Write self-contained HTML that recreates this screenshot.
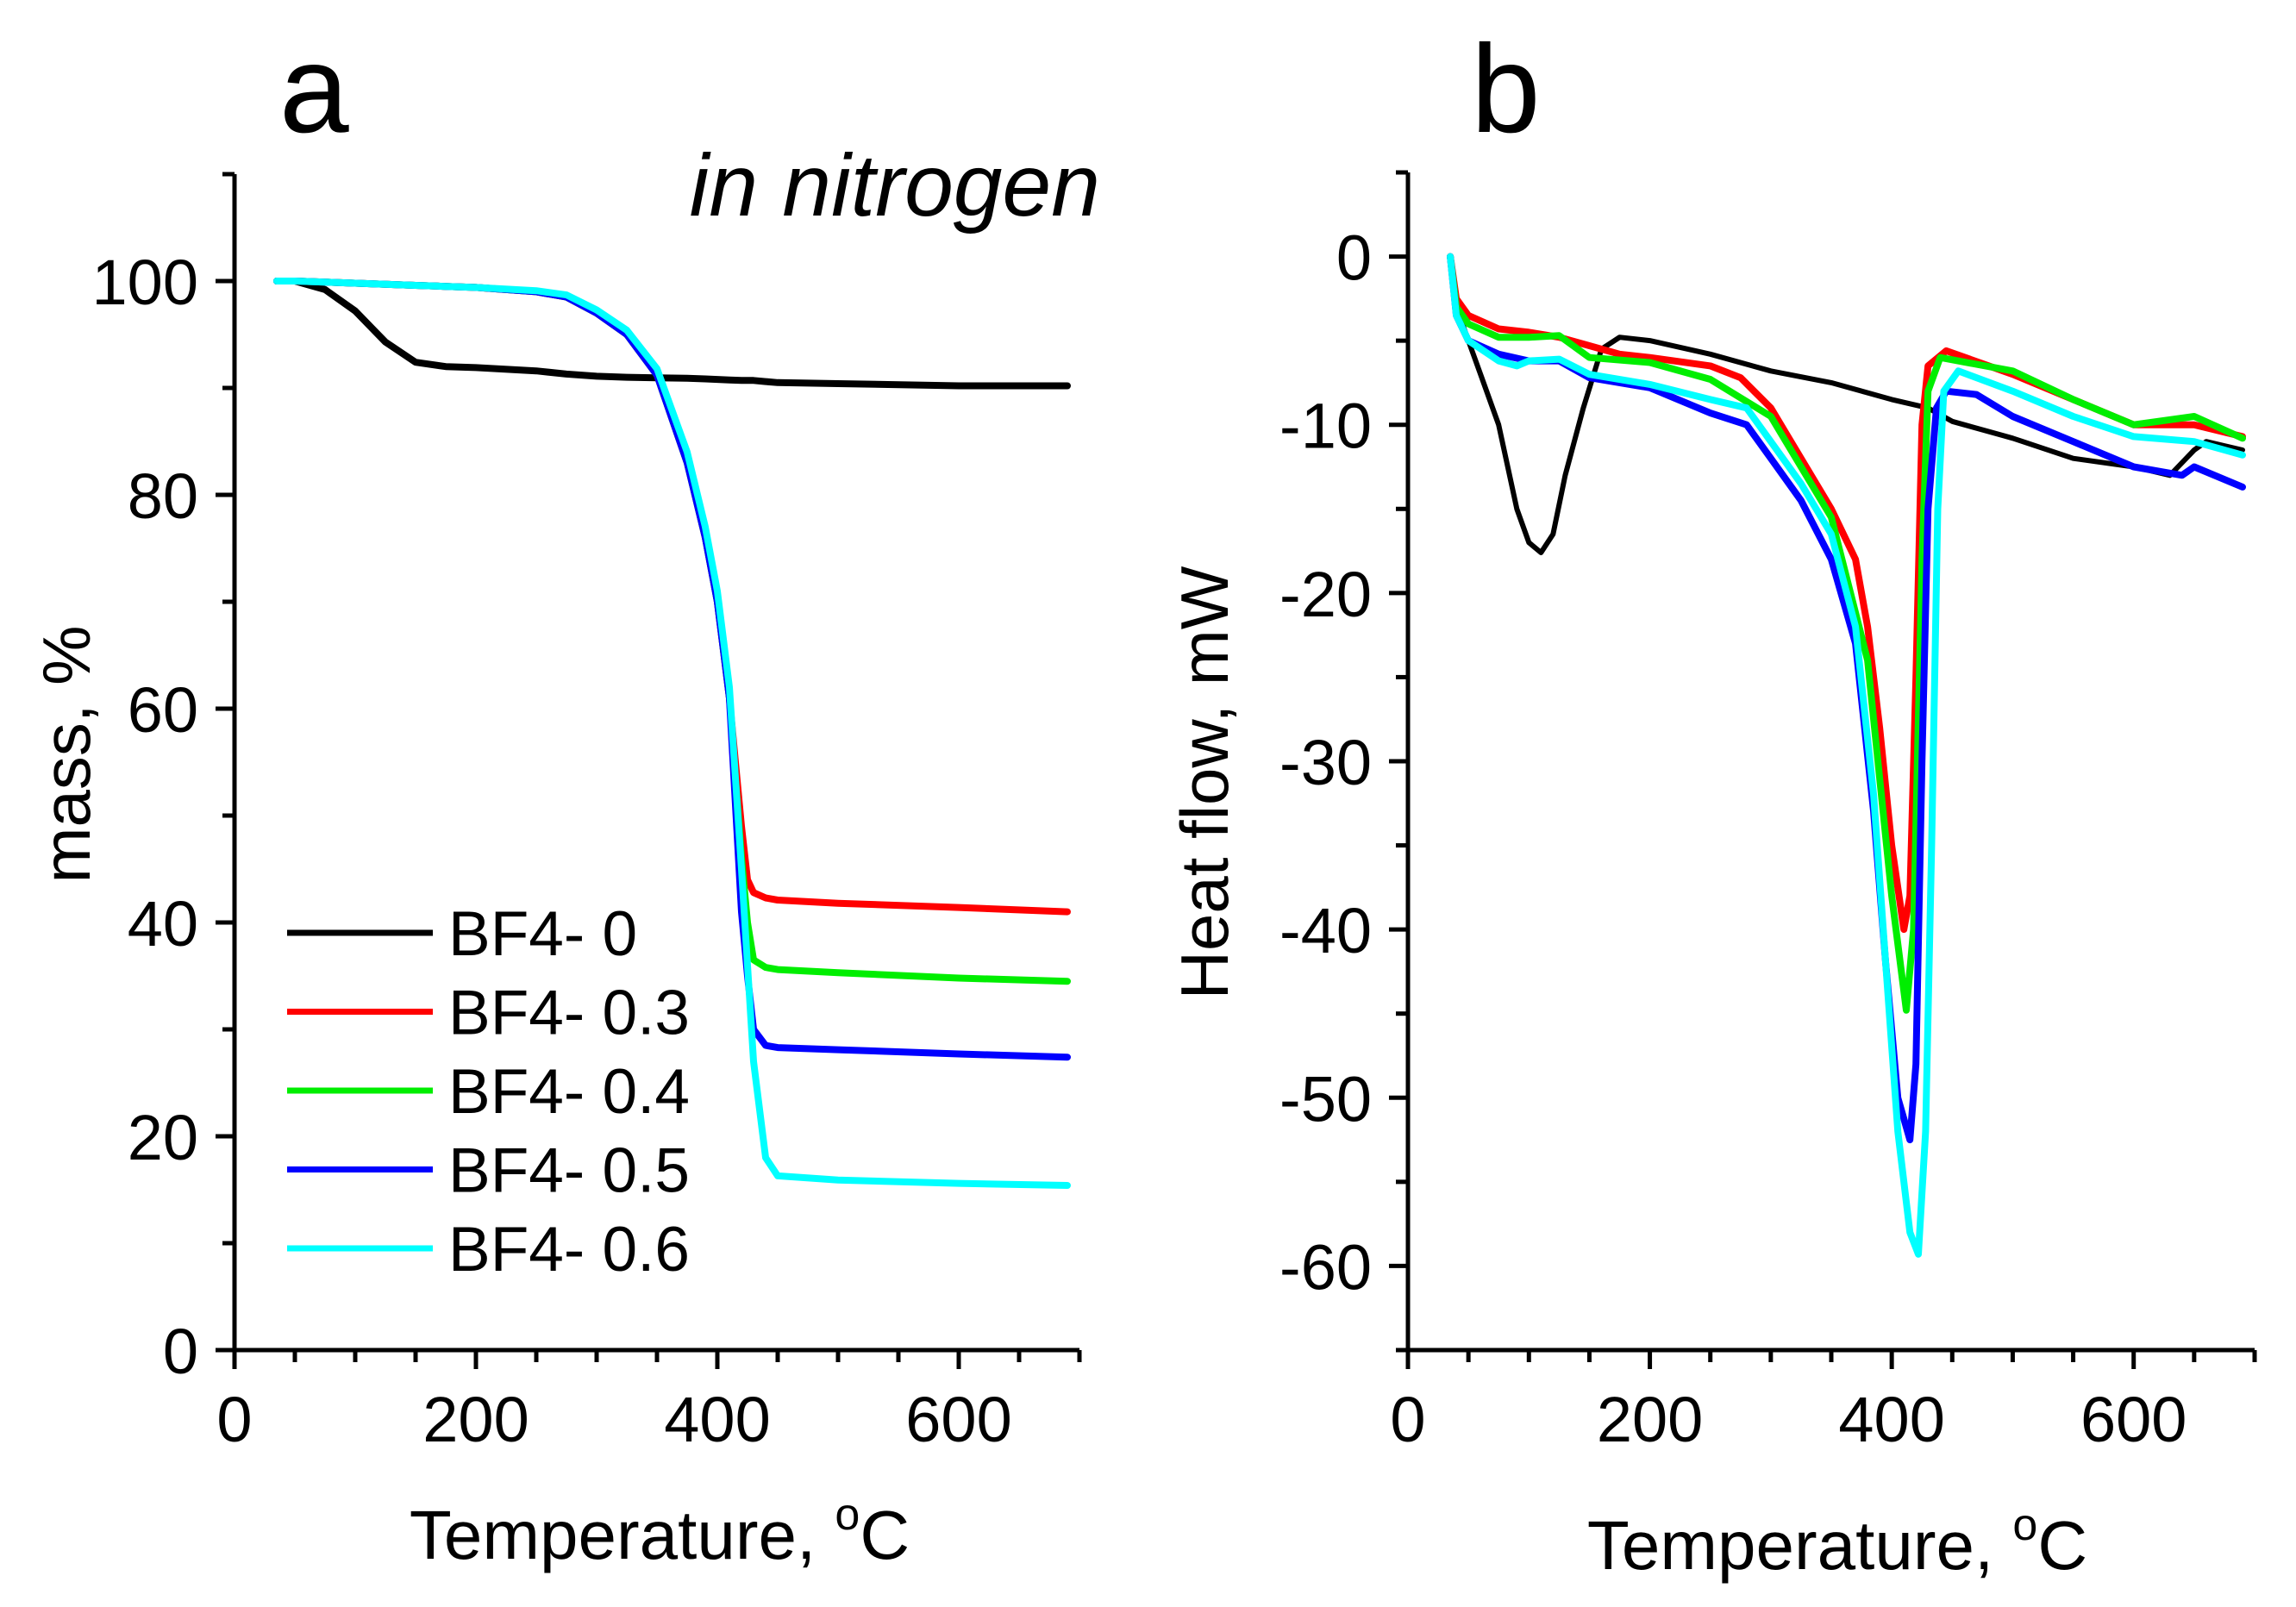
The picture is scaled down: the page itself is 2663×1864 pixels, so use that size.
<!DOCTYPE html>
<html><head><meta charset="utf-8">
<style>
html,body{margin:0;padding:0;background:#fff;}
svg{display:block;}
text{font-family:"Liberation Sans",Arial,sans-serif;fill:#000;}
</style></head>
<body>
<svg id="fig" width="2663" height="1864" viewBox="0 0 2663 1864" xmlns="http://www.w3.org/2000/svg"></svg>
<script>
// ---------- Panel a data (TGA mass, %) ----------
const tgaTemp = [35,50,75,100,125,150,175,200,250,275,300,325,350,375,390,400,410,420,425,430,440,450,500,600,690];
const tgaBF0  = [100,100,99.2,97.2,94.3,92.4,92,91.9,91.6,91.3,91.1,91,90.95,90.9,90.85,90.8,90.75,90.7,90.7,90.7,90.6,90.5,90.4,90.2,90.2];
const tgaBF03 = [100,100,99.9,99.8,99.7,99.6,99.5,99.4,99.0,98.5,97.0,95.0,91.2,83,76,70,61,49,44,42.8,42.3,42.1,41.8,41.4,41];
const tgaBF04 = [100,100,99.9,99.8,99.7,99.6,99.5,99.4,99.0,98.5,97.0,95.0,91.2,83,76,70,61,46,40,36.5,35.8,35.6,35.3,34.8,34.5];
const tgaBF05 = [100,100,99.9,99.8,99.7,99.6,99.5,99.4,99.0,98.5,97.0,95.0,91.2,83,76,70,61,41,35,30,28.5,28.3,28.1,27.7,27.4];
const tgaBF06 = [100,100,99.9,99.8,99.7,99.6,99.5,99.4,99.1,98.7,97.3,95.4,91.8,84,77,71,62,45,36,27,18,16.3,15.9,15.6,15.4];
const legendLabels = ["BF4- 0","BF4- 0.3","BF4- 0.4","BF4- 0.5","BF4- 0.6"];
const seriesColors = ["#000000","#ff0000","#00ee00","#0000ff","#00ffff"];
const aXTicks = [0,200,400,600];
const aYTicks = [0,20,40,60,80,100];

// ---------- Panel b data (DSC heat flow, mW) ----------
const dscBF0T  = [35,40,50,60,75,90,100,110,120,130,145,160,175,200,250,300,350,400,430,450,500,550,600,630,650,660,690];
const dscBF0V  = [0,-3,-5,-7,-10,-15,-17,-17.6,-16.5,-13,-9,-5.5,-4.8,-5,-5.8,-6.8,-7.5,-8.5,-9,-9.8,-10.8,-12,-12.5,-13,-11.5,-11,-11.5];
const dscBF03T = [35,40,50,75,100,125,150,175,200,250,275,300,325,350,370,380,390,400,410,415,420,425,430,445,500,550,600,650,690];
const dscBF03V = [0,-2.5,-3.5,-4.3,-4.5,-4.8,-5.3,-5.8,-6,-6.5,-7.2,-9,-12,-15,-18,-22,-28,-35,-40,-38,-25,-10,-6.5,-5.6,-7,-8.5,-10,-10,-10.7];
const dscBF04T = [35,40,50,75,100,125,150,200,250,300,350,380,400,412,418,425,430,440,500,550,600,650,690];
const dscBF04V = [0,-3,-4,-4.8,-4.8,-4.7,-6,-6.3,-7.3,-9.5,-15.5,-24,-38,-44.8,-40,-18,-8,-6,-6.8,-8.5,-10,-9.5,-10.8];
const dscBF05T = [35,40,50,75,100,125,150,200,250,280,300,325,350,370,385,395,405,415,420,425,430,437,445,470,500,550,600,640,650,690];
const dscBF05V = [0,-3.5,-5,-5.8,-6.2,-6.2,-7.2,-7.8,-9.3,-10,-12,-14.5,-18,-23,-33,-42,-50,-52.5,-48,-30,-15,-9,-8,-8.2,-9.5,-11,-12.5,-13,-12.5,-13.7];
const dscBF06T = [35,40,50,75,90,100,125,150,200,250,280,300,325,350,370,385,395,405,415,422,428,433,438,443,455,500,550,600,650,690];
const dscBF06V = [0,-3.5,-5,-6.2,-6.5,-6.2,-6.1,-7,-7.6,-8.5,-9,-11,-13.5,-16.5,-22,-32,-42,-52,-58,-59.3,-52,-35,-15,-8,-6.8,-8,-9.5,-10.7,-11,-11.8];
const bXTicks = [0,200,400,600];
const bYTicks = [0,-10,-20,-30,-40,-50,-60];

const NS = "http://www.w3.org/2000/svg";
const svg = document.getElementById("fig");
function mk(tag, attrs, parent){ const e=document.createElementNS(NS,tag); for(const k in attrs) e.setAttribute(k,attrs[k]); (parent||svg).appendChild(e); return e; }

// axis functions
const axA = {x0:272, x1:1252, y0:1566, y1:202, xmin:0, xmax:700, ymin:0, ymax:110};
const axB = {x0:1633, x1:2615, y0:1566, y1:200, xmin:0, xmax:700, ymin:-65, ymax:5};
function sx(ax,v){ return ax.x0 + (v-ax.xmin)/(ax.xmax-ax.xmin)*(ax.x1-ax.x0); }
function sy(ax,v){ return ax.y0 - (v-ax.ymin)/(ax.ymax-ax.ymin)*(ax.y0-ax.y1); }

function drawAxes(ax, xTicks, yTicks, xMinorStep, yMinorStep, g){
  const xl = mk("line",{x1:ax.x0-2,y1:ax.y0,x2:ax.x1,y2:ax.y0,stroke:"#000","stroke-width":5},g);
  
  
  const yl = mk("line",{x1:ax.x0,y1:ax.y0+2,x2:ax.x0,y2:ax.y1,stroke:"#000","stroke-width":5},g);
  
  
  for(let v=ax.xmin; v<=ax.xmax+0.01; v+=xMinorStep){
    const major = xTicks.includes(v);
    const t = mk("line",{x1:sx(ax,v),y1:ax.y0,x2:sx(ax,v),y2:ax.y0+(major?22:14),stroke:"#000","stroke-width":5},g);
    
    
  }
  for(let v=ax.ymin; v<=ax.ymax+0.01; v+=yMinorStep){
    const major = yTicks.includes(v);
    const t = mk("line",{x1:ax.x0,y1:sy(ax,v),x2:ax.x0-(major?22:14),y2:sy(ax,v),stroke:"#000","stroke-width":5},g);
    
    
  }
  xTicks.forEach(v=>{
    const t = mk("text",{x:sx(ax,v),y:ax.y0+106,"font-size":74,"text-anchor":"middle"},g);
    t.textContent = v;
    
    
  });
  yTicks.forEach(v=>{
    const t = mk("text",{x:ax.x0-42,y:sy(ax,v)+27,"font-size":74,"text-anchor":"end"},g);
    t.textContent = v;
    
    
  });
}
function drawSeries(ax, xs, ys, color, width, g, name){
  let d="";
  xs.forEach((x,i)=>{ d += (i?"L":"M")+sx(ax,x).toFixed(1)+","+sy(ax,ys[i]).toFixed(1); });
  const p = mk("path",{d:d,fill:"none",stroke:color,"stroke-width":width,"stroke-linejoin":"round","stroke-linecap":"round"},g);
  
  
}

// ---------- Panel a ----------
const gA = mk("g",{});


drawAxes(axA, aXTicks, aYTicks, 50, 10, gA);
const tgaSeries = [tgaBF0,tgaBF03,tgaBF04,tgaBF05,tgaBF06];
tgaSeries.forEach((s,i)=>drawSeries(axA, tgaTemp, s, seriesColors[i], 8, gA, "tga-line-"+legendLabels[i].replace(/[^0-9a-z]+/gi,'-').toLowerCase()));
let t;
t = mk("text",{x:324,y:153,"font-size":145},gA); t.textContent="a";
 
t = mk("text",{x:1276,y:250,"font-size":102,"font-style":"italic","text-anchor":"end"},gA); t.textContent="in nitrogen";
 
t = mk("text",{x:0,y:0,"font-size":78,"text-anchor":"middle",transform:"translate(104,875) rotate(-90)"},gA); t.textContent="mass, %";
 
t = mk("text",{x:765,y:1808,"font-size":80,"text-anchor":"middle"},gA);
t.innerHTML='Temperature, <tspan dy="-34" font-size="52">o</tspan><tspan dy="34">C</tspan>';
 
// legend
const legG = mk("g",{},gA);


legendLabels.forEach((lab,i)=>{
  const y = 1082 + i*91.5;
  const ln = mk("line",{x1:333,y1:y,x2:502,y2:y,stroke:seriesColors[i],"stroke-width":7},legG);
  
  
  const tx = mk("text",{x:520,y:y+26,"font-size":73},legG);
  tx.textContent = lab;
  
  
});

// ---------- Panel b ----------
const gB = mk("g",{});


drawAxes(axB, bXTicks, bYTicks, 50, 5, gB);
const dscT = [dscBF0T,dscBF03T,dscBF04T,dscBF05T,dscBF06T];
const dscV = [dscBF0V,dscBF03V,dscBF04V,dscBF05V,dscBF06V];
[0,1,2,3,4].forEach(i=>drawSeries(axB, dscT[i], dscV[i], seriesColors[i], i===0?6:8, gB, "dsc-line-"+legendLabels[i].replace(/[^0-9a-z]+/gi,'-').toLowerCase()));
t = mk("text",{x:1706,y:153,"font-size":145},gB); t.textContent="b";
 
t = mk("text",{x:0,y:0,"font-size":78,"text-anchor":"middle",transform:"translate(1424,908) rotate(-90)"},gB); t.textContent="Heat flow,  mW";
 
t = mk("text",{x:2131,y:1820,"font-size":80,"text-anchor":"middle"},gB);
t.innerHTML='Temperature, <tspan dy="-34" font-size="52">o</tspan><tspan dy="34">C</tspan>';
 
</script>
</body></html>
